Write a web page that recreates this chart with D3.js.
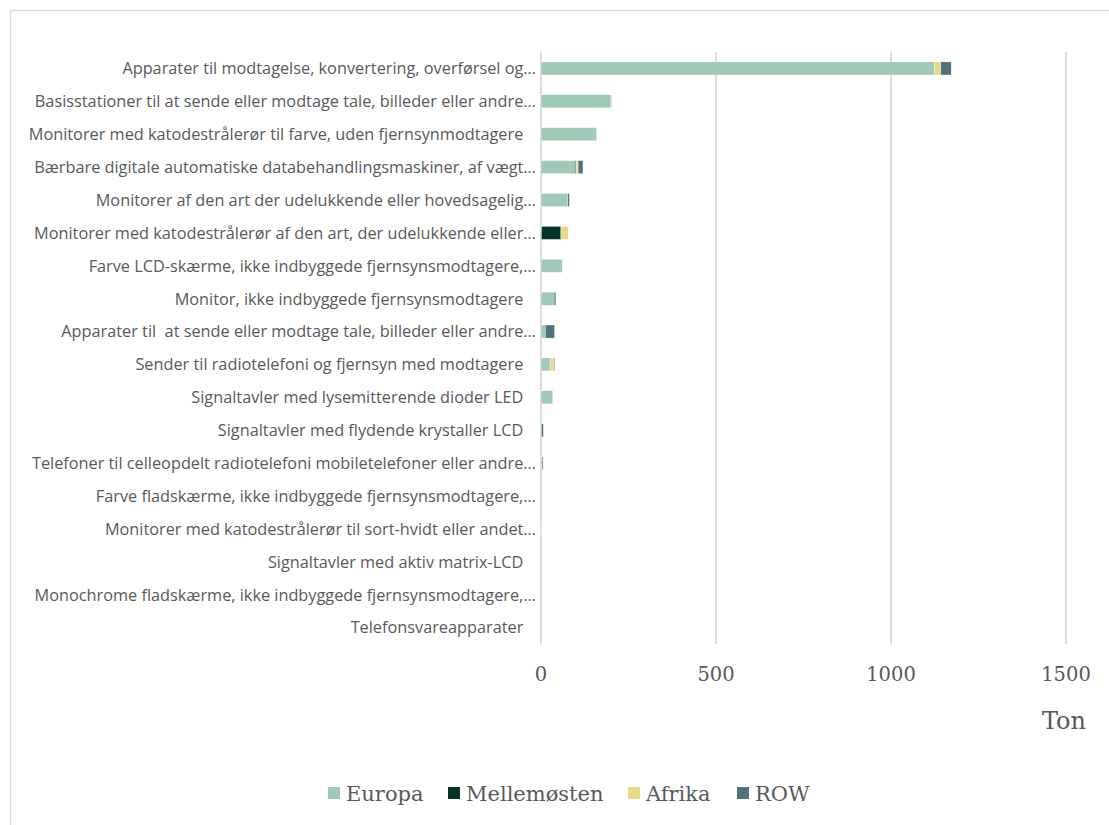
<!DOCTYPE html>
<html>
<head>
<meta charset="utf-8">
<script src="https://cdn.jsdelivr.net/npm/d3@7/dist/d3.min.js"></script>
<style>
  html, body { margin: 0; padding: 0; background: #fff; }
  svg { display: block; }
</style>
</head>
<body>
<svg id="chart" width="1109" height="825"></svg>
<script>
const categories = [
  "Apparater til modtagelse, konvertering, overførsel og…",
  "Basisstationer til at sende eller modtage tale, billeder eller andre…",
  "Monitorer med katodestrålerør til farve, uden fjernsynmodtagere   ",
  "Bærbare digitale automatiske databehandlingsmaskiner, af vægt…",
  "Monitorer af den art der udelukkende eller hovedsagelig…",
  "Monitorer med katodestrålerør af den art, der udelukkende eller…",
  "Farve LCD-skærme, ikke indbyggede fjernsynsmodtagere,…",
  "Monitor, ikke indbyggede fjernsynsmodtagere   ",
  "Apparater til  at sende eller modtage tale, billeder eller andre…",
  "Sender til radiotelefoni og fjernsyn med modtagere   ",
  "Signaltavler med lysemitterende dioder LED   ",
  "Signaltavler med flydende krystaller LCD   ",
  "Telefoner til celleopdelt radiotelefoni mobiletelefoner eller andre…",
  "Farve fladskærme, ikke indbyggede fjernsynsmodtagere,…",
  "Monitorer med katodestrålerør til sort-hvidt eller andet…",
  "Signaltavler med aktiv matrix-LCD   ",
  "Monochrome fladskærme, ikke indbyggede fjernsynsmodtagere,…",
  "Telefonsvareapparater   "
];
const seriesNames = ["Europa", "Mellemøsten", "Afrika", "ROW"];
const europa      = [1124, 199, 159, 98, 76, 1, 61, 38, 12, 26, 32, 1, 3, 2, 1, 0, 0, 0];
const mellemosten = [0, 0, 0, 3, 0, 56, 0, 4, 0, 0, 0, 0, 0, 0, 0, 0, 0, 0];
const afrika      = [18, 0, 0, 5, 0, 21, 0, 0, 0, 10, 0, 0, 0, 0, 0, 0, 0, 0];
const row         = [30, 2, 0, 14, 5, 0, 0, 0, 27, 3, 1, 6, 3, 0, 0, 0, 0, 0];
const xTicks = [0, 500, 1000, 1500];
const axisTitle = "Ton";

const colors = ["#9fcab5", "#023527", "#e8d982", "#4e7479"];

const svg = d3.select("#chart");

// frame
svg.append("rect").attr("x", 10.5).attr("y", 10.5).attr("width", 1120).attr("height", 840)
  .attr("fill", "none").attr("stroke", "#d9d9d9").attr("stroke-width", 1.5);

const x = d3.scaleLinear().domain([0, 1500]).range([541, 1066]);
const y = d3.scaleBand().domain(categories).range([52, 644]).paddingInner(0.6).paddingOuter(0.3);

// gridlines
svg.append("g").selectAll("line").data(xTicks).join("line")
  .attr("x1", d => x(d)).attr("x2", d => x(d))
  .attr("y1", 52).attr("y2", 644)
  .attr("stroke", "#d9d9d9").attr("stroke-width", 1.8);

// stacked data
const table = categories.map((c, i) => ({
  cat: c, Europa: europa[i], "Mellemøsten": mellemosten[i], Afrika: afrika[i], ROW: row[i]
}));
const stacked = d3.stack().keys(seriesNames)(table);

svg.append("g").selectAll("g").data(stacked).join("g")
  .attr("fill", (d, i) => colors[i])
  .selectAll("rect").data(d => d).join("rect")
  .attr("x", d => x(d[0]))
  .attr("width", d => Math.max(0, x(d[1]) - x(d[0])))
  .attr("y", d => y(d.data.cat))
  .attr("height", y.bandwidth())
  .attr("stroke", "#ffffff").attr("stroke-width", 0.4);

// category labels
svg.append("g").selectAll("text").data(categories).join("text")
  .attr("x", 536)
  .attr("y", d => y(d) + y.bandwidth() / 2)
  .attr("dy", "0.36em")
  .attr("text-anchor", "end")
  .style("white-space", "pre")
  .attr("font-family", "'Open Sans', sans-serif")
  .attr("font-size", 16.3)
  .attr("fill", "#595959")
  .text(d => d);

// x tick labels
svg.append("g").selectAll("text").data(xTicks).join("text")
  .attr("x", d => x(d))
  .attr("y", 681)
  .attr("text-anchor", "middle")
  .attr("font-family", "'DejaVu Serif', serif")
  .attr("font-size", 19.5)
  .attr("fill", "#595959")
  .text(d => d);

svg.append("text")
  .attr("x", 1064).attr("y", 729)
  .attr("text-anchor", "middle")
  .attr("font-family", "'DejaVu Serif', serif")
  .attr("font-size", 24)
  .attr("fill", "#595959")
  .text(axisTitle);

// legend
const legendX = [328, 448, 628, 737];
const lg = svg.append("g").selectAll("g").data(seriesNames).join("g")
  .attr("transform", (d, i) => `translate(${legendX[i]},787)`);
lg.append("rect").attr("width", 12).attr("height", 12).attr("fill", (d, i) => colors[i]);
lg.append("text").attr("x", 18).attr("y", 14)
  .attr("font-family", "'DejaVu Serif', serif")
  .attr("font-size", 21)
  .attr("fill", "#595959")
  .text(d => d);
</script>
</body>
</html>
